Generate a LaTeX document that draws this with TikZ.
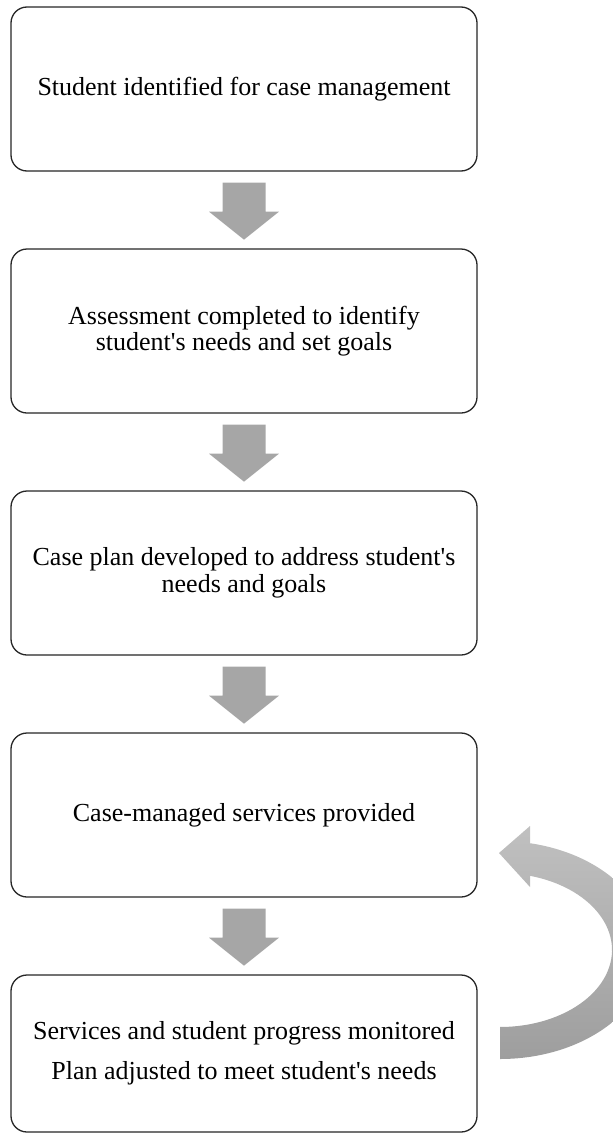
\documentclass[tikz,border=0pt]{standalone}
\usepackage{fontspec}
\setmainfont{Liberation Serif}
\usetikzlibrary{calc}
\definecolor{arrowgray}{HTML}{A6A6A6}
\definecolor{arclight}{HTML}{C0C0C0}
\definecolor{arcdark}{HTML}{9E9E9E}
\definecolor{boxline}{HTML}{262626}
\tikzset{
  stepbox/.style={draw=boxline, line width=1.3pt, rounded corners=16pt, fill=white,
    minimum width=466pt, minimum height=164pt, align=center, inner sep=0pt,
    font=\fontsize{26}{26.7}\selectfont},
  blockarrow/.style={fill=arrowgray, draw=none}
}
\begin{document}
\begin{tikzpicture}[x=1pt,y=1pt]
\useasboundingbox (0,0) rectangle (613,-1135);
\node[stepbox] (b1) at (244,-89) {\raisebox{-3pt}{Student identified for case management}};
\node[stepbox] (b2) at (244,-331) {Assessment completed to identify\\student\textquotesingle s needs and set goals};
\node[stepbox] (b3) at (244,-573) {Case plan developed to address student\textquotesingle s\\needs and goals};
\node[stepbox] (b4) at (244,-815) {\raisebox{-2pt}{Case-managed services provided}};
\node[stepbox, minimum height=157pt] (b5) at (244,-1053.5) {\raisebox{-4pt}{Services and student progress monitored}\\[13.3pt]\raisebox{-4pt}{Plan adjusted to meet student\textquotesingle s needs}};
\foreach \a in {b1,b2,b3,b4}{
  \fill[blockarrow] ([shift={(-21.5,-11)}]\a.south) -- ++(43,0) -- ++(0,-29) -- ++(13.5,0)
    -- ++(-35,-28) -- ++(-35,28) -- ++(13.5,0) -- cycle;
}
\begin{scope}
\clip (0,0) rectangle (613,-1135);
\coordinate (c) at (500,-950);
\shade[top color=arclight, bottom color=arcdark, middle color=arclight!50!arcdark]
  ($(c)+(0,-109)$) arc[start angle=-90, end angle=78.46, x radius=150pt, y radius=109pt]
  -- (530,-826) -- (499,-853) -- (530,-887)
  -- ($(c)+(30,74.2)$) arc[start angle=74.46, end angle=-90, x radius=112pt, y radius=77pt]
  -- cycle;
\end{scope}
\end{tikzpicture}
\end{document}
